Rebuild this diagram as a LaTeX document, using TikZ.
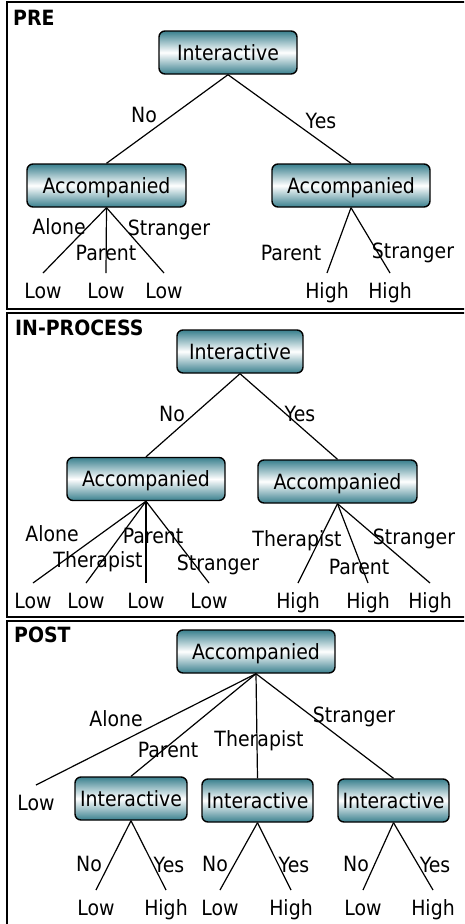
\documentclass[tikz,border=0pt]{standalone}
\usepackage{fontspec}
\setmainfont{DejaVu Sans}[FakeStretch=0.9]
\definecolor{boxteal}{RGB}{58,128,142}

\begin{document}
\begin{tikzpicture}
[x=1pt,y=-1pt,
 every node/.style={font=\fontsize{21pt}{25pt}\selectfont},
 decision/.style={draw=black,line width=1.4pt,rounded corners=6pt,top color=boxteal,bottom color=boxteal,middle color=white,minimum height=43pt,inner sep=0pt,text height=15pt,text depth=0pt},
 outcome/.style={inner sep=0pt,text height=15pt,text depth=4pt,outer ysep=10pt,anchor=base},
 choice/.style={inner sep=0pt,anchor=base},
 heading/.style={inner sep=0pt,anchor=base west,font=\fontsize{21pt}{25pt}\selectfont\bfseries},
 link/.style={line width=1.2pt},
 panel/.style={line width=2pt}]
\useasboundingbox (0,0) rectangle (464,924);
\clip (0,0) rectangle (464,924);

\draw [panel] (7,2) rectangle (480,309);
\draw [panel] (7,313) rectangle (480,617);
\draw [panel] (7,621) rectangle (480,940);

\node (pre) at (13,25) [heading] {PRE};
\node (a0) at (228,52.5) [decision,minimum width=138pt] {Interactive};
\node (a1) at (106.5,185.5) [decision,minimum width=159pt] {Accompanied};
\node (a2) at (351,185.5) [decision,minimum width=158pt] {Accompanied};
\node (a3) at (43,298) [outcome] {Low};
\node (a4) at (106,298) [outcome] {Low};
\node (a5) at (164,298) [outcome] {Low};
\node (a6) at (327,298) [outcome] {High};
\node (a7) at (390,298) [outcome] {High};

\node (ano) at (144,122) [choice] {No};
\node (ayes) at (321,128) [choice] {Yes};
\node (aalone) at (59,234) [choice] {Alone};
\node (aparent) at (106,260) [choice] {Parent};
\node (astranger) at (169,235) [choice] {Stranger};
\node (aparent2) at (291,260) [choice] {Parent};
\node (astranger2) at (413,258) [choice] {Stranger};

\draw [link] (a0.south) -- (a1.north);
\draw [link] (a0.south) -- (a2.north);
\draw [link] (a1.south) -- (a3.north);
\draw [link] (a1.south) -- (a4.north);
\draw [link] (a1.south) -- (a5.north);
\draw [link] (a2.south) -- (a6.north);
\draw [link] (a2.south) -- (a7.north);

\node (inproc) at (15,335) [heading] {IN-PROCESS};
\node (b0) at (240,351.5) [decision,minimum width=126pt] {Interactive};
\node (b1) at (146,479) [decision,minimum width=158pt] {Accompanied};
\node (b2) at (337.5,481.5) [decision,minimum width=159pt] {Accompanied};
\node (b3) at (33,608) [outcome] {Low};
\node (b4) at (86,608) [outcome] {Low};
\node (b5) at (146,608) [outcome] {Low};
\node (b6) at (209,608) [outcome] {Low};
\node (b7) at (298,608) [outcome] {High};
\node (b8) at (368,608) [outcome] {High};
\node (b9) at (430,608) [outcome] {High};

\node (bno) at (172,421) [choice] {No};
\node (byes) at (300,421) [choice] {Yes};
\node (balone) at (52,541) [choice] {Alone};
\node (btherapist) at (98,567) [choice] {Therapist};
\node (bparent) at (153,543) [choice] {Parent};
\node (bstranger) at (218,570) [choice] {Stranger};
\node (btherapist2) at (297,546) [choice] {Therapist};
\node (bparent2) at (359,574) [choice] {Parent};
\node (bstranger2) at (414,544) [choice] {Stranger};

\draw [link] (b0.south) -- (b1.north);
\draw [link] (b0.south) -- (b2.north);
\draw [link] (b1.south) -- (b3.north);
\draw [link] (b1.south) -- (b4.north);
\draw [link] (b1.south) -- (b5.north);
\draw [link] (b1.south) -- (b6.north);
\draw [link] (b2.south) -- (b7.north);
\draw [link] (b2.south) -- (b8.north);
\draw [link] (b2.south) -- (b9.north);

\node (post) at (14,642) [heading] {POST};
\node (c0) at (256,651.5) [decision,minimum width=158pt] {Accompanied};
\node (c1) at (131,798.5) [decision,minimum width=112pt] {Interactive};
\node (c2) at (257.5,800.5) [decision,minimum width=111pt] {Interactive};
\node (c3) at (393.5,800.5) [decision,minimum width=111pt] {Interactive};
\node (c4) at (36,810) [outcome] {Low};
\node (c5) at (96,915) [outcome] {Low};
\node (c6) at (166,915) [outcome] {High};
\node (c7) at (220,915) [outcome] {Low};
\node (c8) at (291,915) [outcome] {High};
\node (c9) at (363,915) [outcome] {Low};
\node (c10) at (433,915) [outcome] {High};

\node (calone) at (116,726) [choice] {Alone};
\node (cparent) at (168,757) [choice] {Parent};
\node (ctherapist) at (259,746) [choice] {Therapist};
\node (cstranger) at (354,722) [choice] {Stranger};
\node (cno1) at (89,871) [choice] {No};
\node (cyes1) at (169,872) [choice] {Yes};
\node (cno2) at (215,871) [choice] {No};
\node (cyes2) at (294,872) [choice] {Yes};
\node (cno3) at (356,871) [choice] {No};
\node (cyes3) at (435,872) [choice] {Yes};

\draw [link] (c0.south) -- (c4.north);
\draw [link] (c0.south) -- (c1.north);
\draw [link] (c0.south) -- (c2.north);
\draw [link] (c0.south) -- (c3.north);
\draw [link] (c1.south) -- (c5.north);
\draw [link] (c1.south) -- (c6.north);
\draw [link] (c2.south) -- (c7.north);
\draw [link] (c2.south) -- (c8.north);
\draw [link] (c3.south) -- (c9.north);
\draw [link] (c3.south) -- (c10.north);
\end{tikzpicture}
\end{document}
